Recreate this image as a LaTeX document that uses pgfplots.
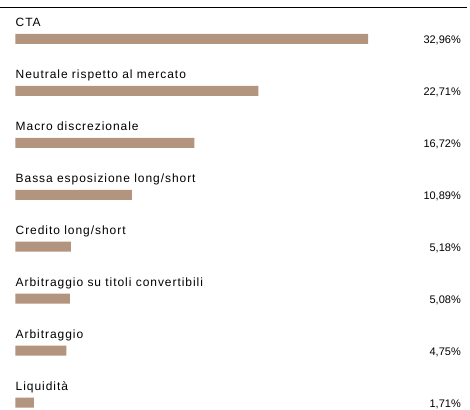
\documentclass[border=0pt]{standalone}
\usepackage{fontspec}
\setmainfont{Liberation Sans}
\newfontfamily\labelfont[LetterSpace=8]{Liberation Sans}
\usepackage{pgfplots}
\pgfplotsset{compat=1.18}
\definecolor{barc}{RGB}{179,148,126}
\begin{document}
\fontsize{11}{13}\selectfont
\begin{tikzpicture}
\begin{axis}[
  scale only axis, width=470pt, height=410pt,
  xmin=-1.4006, xmax=42.484,
  ymin=-0.75, ymax=7.135, y dir=reverse,
  hide axis, clip=false,
]
\path (rel axis cs:0,0) rectangle (rel axis cs:1,1);
\draw[black, line width=1pt] (axis cs:-1.4006,-0.615) -- (axis cs:42.2,-0.615);
\addplot[xbar, bar width=10pt, fill=barc, draw=none] coordinates {
 (32.96,0) (22.71,1) (16.72,2) (10.89,3) (5.18,4) (5.08,5) (4.75,6) (1.71,7)};
\addplot[draw=none, mark=none, nodes near coords, point meta=explicit symbolic,
  every node near coord/.style={anchor=base west, inner sep=0pt, yshift=12pt, font=\labelfont\fontsize{12}{14}\selectfont}]
 coordinates {
 (0,0) [CTA]
 (0,1) [Neutrale rispetto al mercato]
 (0,2) [Macro discrezionale]
 (0,3) [Bassa esposizione long/short]
 (0,4) [Credito long/short]
 (0,5) [Arbitraggio su titoli convertibili]
 (0,6) [Arbitraggio]
 (0,7) [Liquidità]
 };
\addplot[draw=none, mark=none, nodes near coords, point meta=explicit symbolic,
  every node near coord/.style={anchor=base east, inner sep=0pt, yshift=-5pt, font=\fontsize{11}{13}\selectfont}]
 coordinates {
 (41.64,0) [32,96\%]
 (41.64,1) [22,71\%]
 (41.64,2) [16,72\%]
 (41.64,3) [10,89\%]
 (41.64,4) [5,18\%]
 (41.64,5) [5,08\%]
 (41.64,6) [4,75\%]
 (41.64,7) [1,71\%]
 };
\end{axis}
\end{tikzpicture}
\end{document}
